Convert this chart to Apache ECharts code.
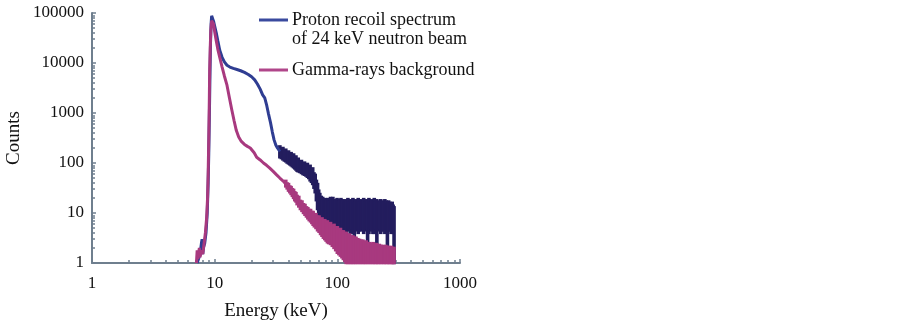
<!DOCTYPE html>
<html>
<head>
<meta charset="utf-8">
<script src="https://cdn.jsdelivr.net/npm/echarts@6/dist/echarts.min.js"></script>
<style>
  html, body { margin: 0; padding: 0; background: #fff; }
  #main { width: 902px; height: 324px; }
</style>
</head>
<body>
<div id="main"></div>
<script>
// proton recoil spectrum (smooth part)
var blueEnergy = [7.2, 7.4, 7.6, 7.8, 7.9, 8.0, 8.1, 8.3, 8.5, 8.7, 8.85, 8.95, 9.05, 9.15, 9.25, 9.35, 9.45,
    9.6, 9.8, 10.0, 10.3, 10.6, 11.0, 11.5, 12.0, 12.6, 13.3, 14.2, 15.2, 16.3, 17.5, 18.8, 20.0, 21.2,
    22.3, 23.5, 24.6, 25.6, 26.6, 27.5, 28.5, 29.5, 30.5, 31.5, 32.5, 34];
var blueCounts = [1, 1, 1.5, 2.5, 3, 1.5, 2, 2.5, 4, 10, 40, 150, 800, 5000, 25000, 60000, 88000,
    82000, 68000, 55000, 40000, 28000, 18000, 13000, 10500, 9000, 8300, 7800, 7400, 7000, 6500, 5900, 5300, 4600,
    3800, 3000, 2300, 2000, 1400, 950, 650, 420, 290, 230, 200, 170];

// proton recoil spectrum, noisy tail: upper and lower edge of the scatter
var blueTailEnergy = [34, 35, 36, 37, 38, 39, 40, 41, 42, 43, 44, 45, 46, 47, 48, 49.5, 51, 52.5, 54, 55.5,
    57, 58.5, 60, 61.5, 63, 64.5, 66, 67.5, 69, 70.5, 72, 74, 76, 78, 80, 82, 84, 86, 88, 90,
    92, 94.5, 97, 99.5, 102, 104.5, 107, 110, 113, 116, 119, 122, 125, 128, 131, 134, 137.5, 141, 144.5, 148,
    152, 156, 160, 164, 168, 172, 176.5, 181, 185.5, 190, 195, 200, 205, 210, 215, 220, 226, 232, 238, 244,
    250, 256, 262, 268, 274, 280, 285, 290];
var blueTailHigh = [215, 195, 200, 180, 185, 165, 170, 155, 158, 145, 148, 132, 135, 118, 122, 108, 110, 98, 102, 92,
    96, 86, 88, 76, 78, 62, 58, 44, 38, 28, 24, 21, 20, 18, 19, 18, 19, 17, 20, 18,
    20, 17, 18, 19, 17, 18, 19, 18, 16, 18, 17, 19, 16, 18, 17, 19, 16, 18, 17, 19,
    16, 18, 17, 19, 16, 18, 17, 19, 16, 18, 17, 19, 16, 18, 17, 16, 18, 17, 16, 18,
    17, 15, 17, 16, 15, 16, 14, 13];
var blueTailLow = [130, 125, 118, 112, 108, 102, 98, 94, 90, 86, 82, 78, 74, 70, 68, 66, 63, 60, 58, 56,
    53, 50, 45, 42, 38, 32, 26, 18, 12, 8, 6, 5, 4.5, 4, 4.5, 4, 3.5, 5, 4, 5,
    2.5, 4.5, 5, 4, 5, 4.5, 4.5, 5, 4, 1.5, 4, 5, 4.5, 4, 5, 4, 2, 4.5, 5, 4,
    4.5, 4.5, 5, 4, 4.5, 5, 1.5, 4, 5, 4.5, 4, 4, 5, 1.3, 4.5, 5, 4, 4.5, 4.5, 4,
    5, 2, 4.5, 4.5, 4, 5, 4, 1];

// gamma-rays background (smooth part)
var gammaEnergy = [7.1, 7.2, 7.3, 7.5, 7.6, 7.8, 8.0, 8.2, 8.4, 8.6, 8.75, 8.85, 8.95, 9.05, 9.1, 9.2, 9.3, 9.45,
    9.6, 9.8, 10.0, 10.3, 10.6, 11.0, 11.5, 12.0, 12.6, 13.2, 13.8, 14.4, 15.0, 15.7, 16.5, 17.5, 18.5, 19.5,
    21, 22, 23.5, 25, 26.5, 28, 30, 32, 34, 36, 38];
var gammaCounts = [1, 1.8, 1.2, 2, 1.3, 1.8, 1.5, 2.5, 4, 8, 20, 60, 300, 2000, 7000, 20000, 45000, 70000,
    75000, 60000, 42000, 28000, 19000, 13000, 8300, 5500, 3600, 2000, 1150, 700, 450, 330, 270, 235, 215, 200,
    160, 130, 115, 100, 90, 80, 68, 58, 50, 44, 38];

// gamma-rays background, noisy tail: upper and lower edge of the scatter
var gammaTailEnergy = [38, 39, 40, 41, 42, 43, 44, 45, 46, 47, 48.5, 50, 51.5, 53, 54.5, 56, 57.5, 59, 60.5, 62,
    63.5, 65, 67, 69, 71, 73, 75, 77, 79, 81, 83, 85, 88, 91, 94, 97, 100, 103, 106, 109,
    112, 115, 118, 122, 126, 130, 134, 138, 142, 147, 152, 157, 162, 167, 172, 178, 184, 190, 196, 202,
    208, 214, 220, 227, 234, 241, 248, 255, 262, 269, 276, 283, 290];
var gammaTailHigh = [44, 39, 38, 34, 33, 30, 29, 26, 25, 22, 21, 17.5, 17, 15, 14.5, 13, 12.5, 11.5, 11.5, 10.5,
    10.5, 9.5, 9.5, 8.5, 8.5, 7.6, 7.8, 7, 7.2, 6.6, 6.8, 6.2, 6.3, 5.6, 5.8, 5.2, 5.2, 4.7, 4.8, 4.3,
    4.3, 4, 4, 3.7, 3.7, 3.4, 3.4, 3.2, 3.2, 3, 2.9, 2.8, 2.8, 2.6, 2.7, 2.5, 2.5, 2.4, 2.5, 2.3,
    2.4, 2.2, 2.3, 2.2, 2.2, 2.1, 2.2, 2.1, 2.1, 2, 2.1, 2, 2];
var gammaTailLow = [34, 31, 28, 26, 24, 22, 20, 18, 17, 15, 13.5, 12, 11, 10, 9.2, 8.5, 7.8, 7.2, 6.8, 6.3,
    5.8, 5.4, 5, 4.5, 4.2, 3.8, 3.5, 3.2, 3, 2.8, 2.6, 2.5, 2.4, 2.2, 2, 1.8, 1.6, 1.5, 1.4, 1.3,
    1.2, 1.1, 1, 1, 1, 1, 1, 1, 1, 1, 1, 1, 1, 1, 1, 1, 1, 1, 1, 1,
    1, 1, 1, 1, 1, 1, 1, 1, 1, 1, 1, 1, 1];

var minorTicks = [2, 3, 4, 5, 6, 7, 8, 9, 20, 30, 40, 50, 60, 70, 80, 90, 200, 300, 400, 500, 600, 700, 800, 900,
    2000, 3000, 4000, 5000, 6000, 7000, 8000, 9000, 20000, 30000, 40000, 50000, 60000, 70000, 80000, 90000];

function pairs(xs, ys) {
    var out = [];
    for (var i = 0; i < xs.length; i++) {
        out.push([xs[i], ys[i]]);
    }
    return out;
}

function triples(xs, hi, lo) {
    var out = [];
    for (var i = 0; i < xs.length; i++) {
        out.push([xs[i], hi[i], lo[i]]);
    }
    return out;
}

// vertical strip from low to high edge at each energy
function bandItem(color) {
    return function (params, api) {
        var top = api.coord([api.value(0), api.value(1)]);
        var bottom = api.coord([api.value(0), api.value(2)]);
        return {
            type: 'rect',
            shape: { x: top[0] - 1.8, y: top[1] - 1.2, width: 3.6, height: bottom[1] - top[1] + 2.4 },
            style: { fill: color }
        };
    };
}

var font = 'Liberation Serif';
var axisColor = '#6f7f8e';
var blueLine = '#2f3d92';
var blueDark = '#231d5e';
var magenta = '#a8397f';

var myChart = echarts.init(document.getElementById('main'));

var option = {
    animation: false,
    grid: { left: 92, top: 13, width: 368, height: 250, outerBoundsMode: 'none' },
    xAxis: [{
        type: 'log',
        logBase: 10,
        min: 1,
        max: 1000,
        name: 'Energy (keV)',
        nameLocation: 'middle',
        nameGap: 39,
        nameTextStyle: { fontFamily: font, fontSize: 19, color: '#111' },
        axisLine: { lineStyle: { color: axisColor, width: 2 } },
        axisTick: { inside: true, length: 4, lineStyle: { color: axisColor, width: 1.5 } },
        axisLabel: {
            margin: 12,
            fontFamily: font, fontSize: 17, color: '#111',
            formatter: function (v) { return String(Math.round(v)); }
        },
        splitLine: { show: false }
    }, {
        type: 'log',
        logBase: 10,
        min: 1,
        max: 1000,
        position: 'bottom',
        axisLine: { show: false },
        axisTick: { inside: true, length: 3, customValues: minorTicks, lineStyle: { color: axisColor, width: 1.5 } },
        axisLabel: { show: false },
        splitLine: { show: false }
    }],
    yAxis: [{
        type: 'log',
        logBase: 10,
        min: 1,
        max: 100000,
        name: 'Counts',
        nameLocation: 'middle',
        nameGap: 68,
        nameTextStyle: { fontFamily: font, fontSize: 19, color: '#111' },
        axisLine: { lineStyle: { color: axisColor, width: 2 } },
        axisTick: { inside: true, length: 4, lineStyle: { color: axisColor, width: 1.5 } },
        axisLabel: {
            margin: 8,
            fontFamily: font, fontSize: 17, color: '#111',
            formatter: function (v) { return String(Math.round(v)); }
        },
        splitLine: { show: false }
    }, {
        type: 'log',
        logBase: 10,
        min: 1,
        max: 100000,
        position: 'left',
        axisLine: { show: false },
        axisTick: { inside: true, length: 3, customValues: minorTicks, lineStyle: { color: axisColor, width: 1.5 } },
        axisLabel: { show: false },
        splitLine: { show: false }
    }],
    series: [{
        name: 'proton',
        type: 'line',
        data: pairs(blueEnergy, blueCounts),
        showSymbol: false,
        lineStyle: { color: blueLine, width: 3 },
        z: 2
    }, {
        name: 'proton tail',
        type: 'custom',
        data: triples(blueTailEnergy, blueTailHigh, blueTailLow),
        encode: { x: 0, y: [1, 2] },
        renderItem: bandItem(blueDark),
        z: 2
    }, {
        name: 'gamma',
        type: 'line',
        data: pairs(gammaEnergy, gammaCounts),
        showSymbol: false,
        lineStyle: { color: magenta, width: 3 },
        z: 3
    }, {
        name: 'gamma tail',
        type: 'custom',
        data: triples(gammaTailEnergy, gammaTailHigh, gammaTailLow),
        encode: { x: 0, y: [1, 2] },
        renderItem: bandItem(magenta),
        z: 3
    }],
    graphic: [
        { type: 'line', shape: { x1: 259, y1: 20, x2: 288, y2: 20 }, style: { stroke: '#3a4a9e', lineWidth: 3 } },
        { type: 'line', shape: { x1: 259, y1: 70, x2: 288, y2: 70 }, style: { stroke: '#b0468a', lineWidth: 3 } },
        { type: 'text', left: 292, top: 11, style: { text: 'Proton recoil spectrum', font: '18px "Liberation Serif"', fill: '#111' } },
        { type: 'text', left: 292, top: 30, style: { text: 'of 24 keV neutron beam', font: '18px "Liberation Serif"', fill: '#111' } },
        { type: 'text', left: 292, top: 61, style: { text: 'Gamma-rays background', font: '18px "Liberation Serif"', fill: '#111' } }
    ]
};

myChart.setOption(option);
</script>
</body>
</html>
